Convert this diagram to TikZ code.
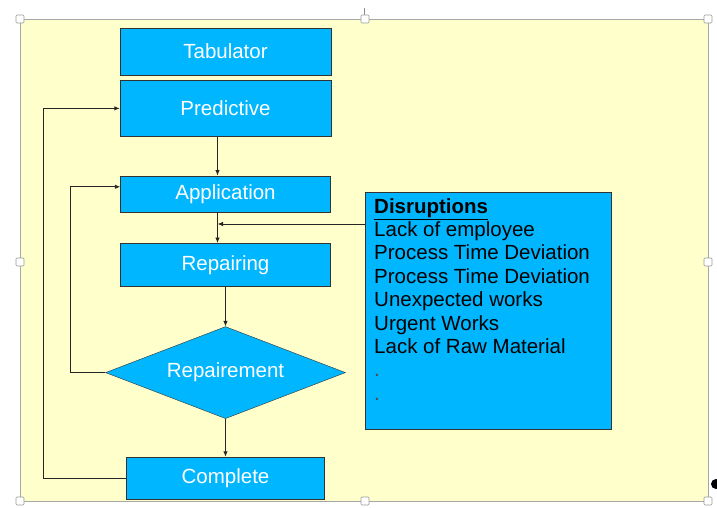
\documentclass[tikz,border=0pt]{standalone}
\usepackage{fontspec}
\setmainfont{Liberation Sans}
\usetikzlibrary{shapes,arrows,arrows.meta,positioning,calc}
\definecolor{boxblue}{RGB}{0,182,255}
\definecolor{paleyellow}{RGB}{255,255,204}
\tikzstyle{block} = [draw=black!80, rectangle, fill=boxblue, text=white, font=\fontsize{20.5}{24}\selectfont, inner sep=0pt]
\tikzstyle{decision} = [draw=black!80, diamond, aspect=2.6, fill=boxblue, text=white, font=\fontsize{20.5}{24}\selectfont, inner sep=0pt, minimum width=240pt, minimum height=92pt]
\tikzstyle{notes} = [draw=black!80, rectangle, fill=boxblue, font=\fontsize{20.5}{23.4}\selectfont, inner xsep=9pt, inner ysep=6pt, anchor=north west]
\tikzstyle{line} = [draw, black!85, line width=0.9pt, -{Latex[length=5.5pt,width=4.5pt]}]
\tikzstyle{handle} = [draw=black!40, fill=white, line width=0.6pt, rounded corners=1pt]

\begin{document}
\begin{tikzpicture}[x=1pt, y=1pt]
    \useasboundingbox (0,0) rectangle (717,507);
    % Background
    \draw [draw=black!35, fill=paleyellow, line width=0.8pt] (20,6) rectangle (708,488);

    % Nodes
    \node [block, minimum width=211pt, minimum height=47pt] (tab) at (225.5,455.5) {Tabulator};
    \node [block, minimum width=211pt, minimum height=56pt, below=5pt of tab] (pred) {Predictive};
    \node [block, minimum width=210pt, minimum height=36pt, below=39pt of pred] (app) {Application};
    \node [block, minimum width=210pt, minimum height=43pt, below=31pt of app] (rep) {Repairing};
    \node [decision, below=40pt of rep] (dia) {Repairement};
    \node [block, minimum width=198pt, minimum height=42pt, below=38pt of dia] (com) {Complete};
    \node [notes] (dis) at (365,315) {\parbox[t][225pt][t]{228pt}{%
        \underline{\textbf{Disruptions}}\\
        Lack of employee\\
        Process Time Deviation\\
        Process Time Deviation\\
        Unexpected works\\
        Urgent Works\\
        Lack of Raw Material\\
        {\color{black!70}.}\\
        {\color{black!70}.}}};
    \coordinate (join) at ([xshift=-8pt]app.south);

    % Paths
    \path [line] ([xshift=-8pt]pred.south) -- ([xshift=-8pt]app.north);
    \path [line] (join) -- ([xshift=-8pt]rep.north);
    \path [line] ([yshift=-32pt]dis.north west) -- ([yshift=-32pt]dis.north west -| join);
    \path [line] (rep.south) -- (dia.north);
    \path [line] (dia.south) -- (com.north);
    \path [line] (dia.west) -- ++(-35pt,0) |- ([yshift=7pt]app.west);
    \path [line] (com.west) -- ++(-83pt,0) |- (pred.west);

    % Selection handles
    \draw [draw=black!45, line width=0.6pt] (364,488) -- (364,499);
    \foreach \hx/\hy in {20/488, 365/488, 708/488, 20/245, 708/245, 20/6, 365/6, 708/6}
        \draw [handle] (\hx-4,\hy-4) rectangle ++(8,8);
    \fill [black] (716,23) circle (5);
\end{tikzpicture}
\end{document}
